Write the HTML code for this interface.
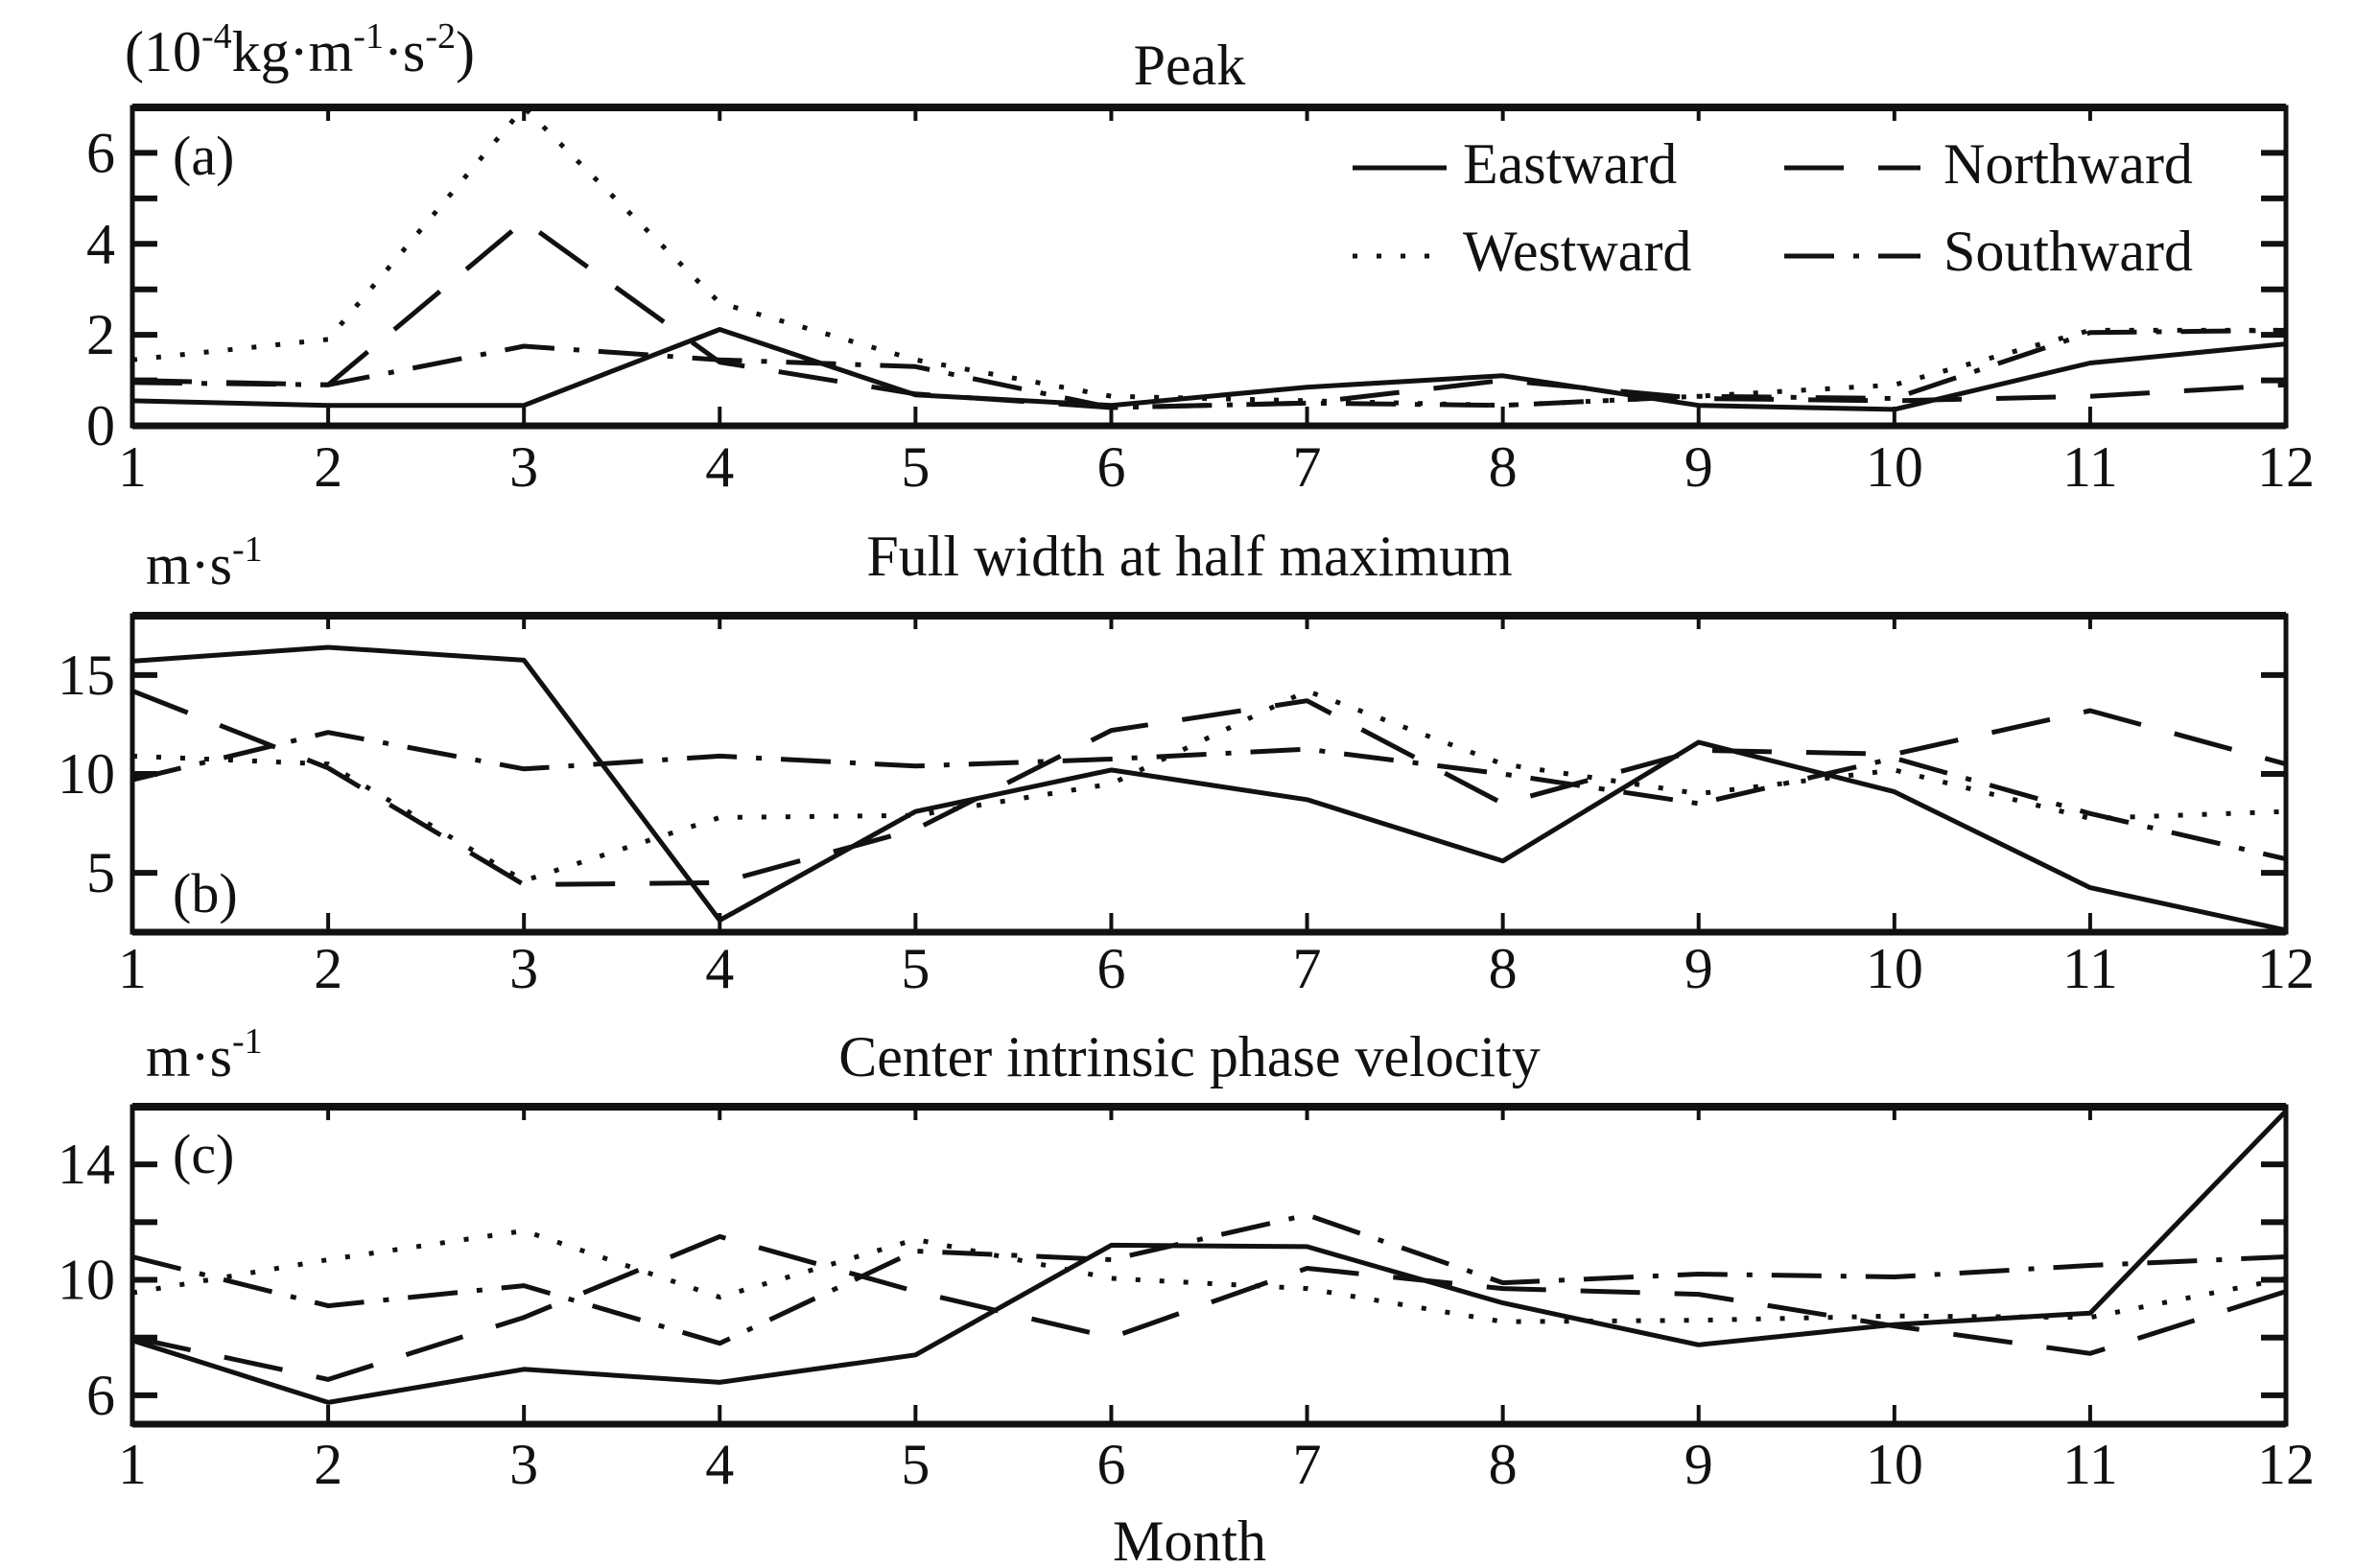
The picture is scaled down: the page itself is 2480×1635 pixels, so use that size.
<!DOCTYPE html>
<html><head><meta charset="utf-8">
<style>
html,body{margin:0;padding:0;background:#fff;}
svg{display:block;}
text{font-family:"Liberation Serif",serif;fill:#111;}
</style></head>
<body>
<svg id="chart" width="2480" height="1635" viewBox="0 0 2480 1635" xmlns="http://www.w3.org/2000/svg"></svg>
<script>
const months = [1,2,3,4,5,6,7,8,9,10,11,12];
const seriesNames = ["Eastward","Westward","Northward","Southward"];
// Panel (a) Peak
const peakEast  = [0.55,0.45,0.45,2.12,0.68,0.45,0.85,1.1,0.45,0.36,1.38,1.8];
const peakWest  = [1.45,1.9,7.0,2.7,1.45,0.65,0.55,0.45,0.65,0.9,2.1,2.1];
const peakNorth = [1.0,0.9,4.5,1.4,0.7,0.4,0.5,1.0,0.6,0.55,0.65,0.9];
const peakSouth = [0.95,0.9,1.75,1.45,1.3,0.4,0.5,0.45,0.65,0.6,2.05,2.1];
// Panel (b) FWHM
const fwEast  = [15.7,16.4,15.75,2.6,8.1,10.2,8.7,5.6,11.6,9.1,4.25,2.1];
const fwWest  = [10.9,10.5,4.6,7.8,7.9,9.5,14.2,10.5,9.0,10.2,7.75,8.1];
const fwNorth = [14.2,10.3,4.4,4.5,7.2,12.2,13.7,8.5,11.2,11.0,13.2,10.5];
const fwSouth = [9.7,12.1,10.25,10.9,10.4,10.75,11.25,10.0,8.5,10.8,8.0,5.7];
// Panel (c) Center intrinsic phase velocity
const cvEast  = [7.9,5.75,6.9,6.45,7.4,11.2,11.15,9.2,7.75,8.45,8.85,15.85];
const cvWest  = [9.55,10.7,11.7,9.4,11.4,10.05,9.7,8.55,8.6,8.75,8.7,10.05];
const cvNorth = [8.0,6.55,8.7,11.5,9.6,8.0,10.4,9.7,9.5,8.4,7.45,9.6];
const cvSouth = [10.8,9.1,9.8,7.8,11.0,10.7,12.25,9.9,10.2,10.1,10.5,10.8];
const peakTicks = [0,2,4,6];
const fwTicks = [5,10,15];
const cvTicks = [6,10,14];

const NS="http://www.w3.org/2000/svg";
const svg=document.getElementById('chart');
function el(tag,attrs,parent){const e=document.createElementNS(NS,tag);for(const k in attrs)e.setAttribute(k,attrs[k]);(parent||svg).appendChild(e);return e;}
const X0=138,X1=2383;
function xS(m){return X0+(m-1)*(X1-X0)/11;}
const dashes={Eastward:"none",Westward:"5 20",Northward:"62 36",Southward:"52 20 6 20"};

const panels=[
 {id:"a",top:112,bot:444,min:0,max:7,minor:[1,2,3,4,5,6],ticks:peakTicks,data:[peakEast,peakWest,peakNorth,peakSouth],
  title:"Peak",titleY:88,unitY:74,label:"(a)",labelY:182,tickY:507},
 {id:"b",top:642,bot:972,min:2,max:18,minor:[5,10,15],ticks:fwTicks,data:[fwEast,fwWest,fwNorth,fwSouth],
  title:"Full width at half maximum",titleY:600,unitY:609,label:"(b)",labelY:951,tickY:1030},
 {id:"c",top:1154,bot:1485,min:5,max:16,minor:[6,8,10,12,14],ticks:cvTicks,data:[cvEast,cvWest,cvNorth,cvSouth],
  title:"Center intrinsic phase velocity",titleY:1122,unitY:1122,label:"(c)",labelY:1223,tickY:1547}
];

panels.forEach(p=>{
  const g=el('g',{});
  
  
  const yS=v=>p.bot-(v-p.min)/(p.max-p.min)*(p.bot-p.top);
  p.data.forEach((arr,i)=>{
    const pts=arr.map((v,j)=>xS(months[j]).toFixed(1)+','+yS(v).toFixed(1)).join(' ');
    const pl=el('polyline',{points:pts,fill:'none',stroke:'#111','stroke-width':5,'stroke-linejoin':'round','stroke-dasharray':dashes[seriesNames[i]]},g);
    
    
  });
  const fr=el('rect',{x:X0,y:p.top,width:X1-X0,height:p.bot-p.top,fill:'none',stroke:'#111','stroke-width':5},g);
  
  
  el('line',{x1:X0,x2:X1,y1:p.top,y2:p.top,stroke:'#111','stroke-width':8},g);
  el('line',{x1:X0,x2:X1,y1:p.bot,y2:p.bot,stroke:'#111','stroke-width':7},g);
  months.forEach(m=>{
    const x=xS(m);
    el('line',{x1:x,x2:x,y1:p.bot,y2:p.bot-20,stroke:'#111','stroke-width':4},g);
    el('line',{x1:x,x2:x,y1:p.top,y2:p.top+14,stroke:'#111','stroke-width':4},g);
    const t=el('text',{x:x,y:p.tickY,'font-size':60,'text-anchor':'middle'},g);
    t.textContent=m;
    
    
  });
  p.minor.forEach(v=>{
    const y=yS(v);
    el('line',{x1:X0,x2:X0+26,y1:y,y2:y,stroke:'#111','stroke-width':6},g);
    el('line',{x1:X1,x2:X1-26,y1:y,y2:y,stroke:'#111','stroke-width':6},g);
  });
  p.ticks.forEach(v=>{
    const t=el('text',{x:120,y:yS(v)+20,'font-size':60,'text-anchor':'end'},g);
    t.textContent=v;
    
    
  });
  const tt=el('text',{x:1240,y:p.titleY,'font-size':60,'text-anchor':'middle'},g);
  tt.textContent=p.title;
  
  
  const lb=el('text',{x:180,y:p.labelY,'font-size':58},g);
  lb.textContent=p.label;
  
  
  const u=el('text',{x:p.id==='a'?130:152,y:p.unitY,'font-size':60},g);
  
  
  if(p.id==='a'){
    u.innerHTML='(10<tspan dy="-24" font-size="38">-4</tspan><tspan dy="24">kg·m</tspan><tspan dy="-24" font-size="38">-1</tspan><tspan dy="24">·s</tspan><tspan dy="-24" font-size="38">-2</tspan><tspan dy="24">)</tspan>';
  } else {
    u.innerHTML='m·s<tspan dy="-24" font-size="38">-1</tspan>';
  }
});

const leg=el('g',{});


const legPos=[[1410,175,1525,191],[1410,267,1525,282],[1860,175,2026,191],[1860,267,2026,282]];
seriesNames.forEach((n,i)=>{
  const [lx,ly,tx,ty]=legPos[i];
  const ent=el('g',{},leg);
  
  
  el('line',{x1:lx,x2:lx+(i<2?98:142),y1:ly,y2:ly,stroke:'#111','stroke-width':5,'stroke-dasharray':dashes[n]},ent);
  const t=el('text',{x:tx,y:ty,'font-size':60},ent);
  t.textContent=n;
});

const mx=el('text',{x:1240,y:1627,'font-size':60,'text-anchor':'middle'});
mx.textContent='Month';


</script>
</body></html>
